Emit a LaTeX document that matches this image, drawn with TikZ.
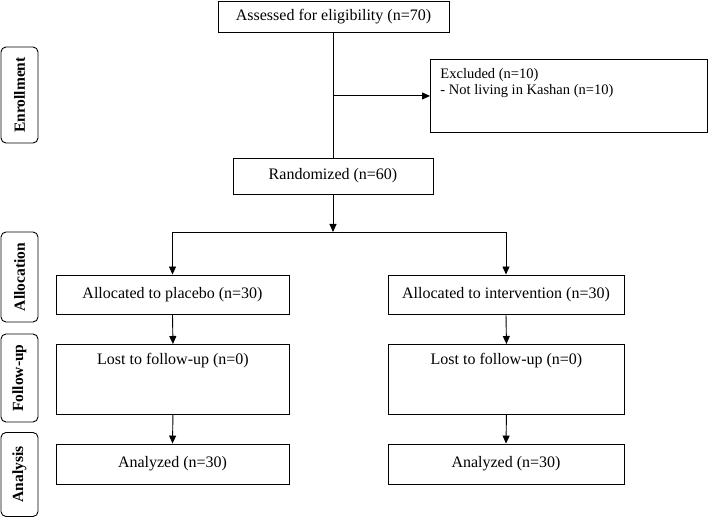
\documentclass[tikz,border=0pt]{standalone}
\usepackage{fontspec}
\setmainfont{Liberation Serif}
\usetikzlibrary{arrows.meta}
\begin{document}
\begin{tikzpicture}[x=1pt,y=-1pt,
  box/.style={draw, line width=0.9pt, inner sep=0pt, align=center, font=\fontsize{16}{17}\selectfont},
  phase/.style={draw, rounded corners=5pt, line width=0.9pt, inner sep=0pt, rotate=90, minimum height=37pt, font=\bfseries\fontsize{15.5}{17}\selectfont},
  arr/.style={-{Triangle[length=8pt,width=7pt]}, line width=0.9pt},
  ln/.style={line width=0.9pt}]
\useasboundingbox (0,0) rectangle (709,518);

% phase labels
\node[phase, minimum width=96pt] (pEnr) at (19.5,95) {Enrollment};
\node[phase, minimum width=90pt] (pAll) at (19.5,277) {Allocation};
\node[phase, minimum width=88pt] (pFol) at (19.5,378) {Follow-up};
\node[phase, minimum width=84pt] (pAna) at (19.5,474.5) {Analysis};

% boxes
\node[box, minimum width=231pt, minimum height=31pt] (assess) at (333.5,16.5) {Assessed for eligibility (n=70)};
\node[box, minimum width=200pt, minimum height=36pt] (rand) at (333,176) {Randomized (n=60)};
\node[box, anchor=north west, font=\fontsize{14.5}{16}\selectfont] (excl) at (430,59)
  {\parbox[t][73pt][t]{277pt}{\raggedright\leftskip=10pt\rule{0pt}{19pt}Excluded (n=10)\\- Not living in Kashan (n=10)}};

\node[box, minimum width=233pt, minimum height=39pt] (al1) at (172.5,294.5) {Allocated to placebo (n=30)};
\node[box, minimum width=236pt, minimum height=39pt] (al2) at (506,294.5) {Allocated to intervention (n=30)};

\node[box, anchor=north west] (lo1) at (56,344)
  {\parbox[t][70pt][t]{233pt}{\centering\rule{0pt}{20.5pt}Lost to follow-up (n=0)}};
\node[box, anchor=north west] (lo2) at (388,344)
  {\parbox[t][70pt][t]{236pt}{\centering\rule{0pt}{20.5pt}Lost to follow-up (n=0)}};

\node[box, minimum width=233pt, minimum height=40pt] (an1) at (172.5,464) {Analyzed (n=30)};
\node[box, minimum width=236pt, minimum height=40pt] (an2) at (506,464) {Analyzed (n=30)};

% connectors
\coordinate (split) at (333,232);
\draw[ln] (assess.south) -- (assess.south |- rand.north);
\draw[arr] (assess.south |- excl.west) -- (excl.west);
\draw[arr] (rand.south) -- (split);
\draw[ln] (al1.north |- split) -- (al2.north |- split);
\draw[arr] (al1.north |- split) -- (al1.north);
\draw[arr] (al2.north |- split) -- (al2.north);
\draw[arr] (al1.south) -- (lo1.north);
\draw[arr] (al2.south) -- (lo2.north);
\draw[arr] (lo1.south) -- (an1.north);
\draw[arr] (lo2.south) -- (an2.north);
\end{tikzpicture}
\end{document}
